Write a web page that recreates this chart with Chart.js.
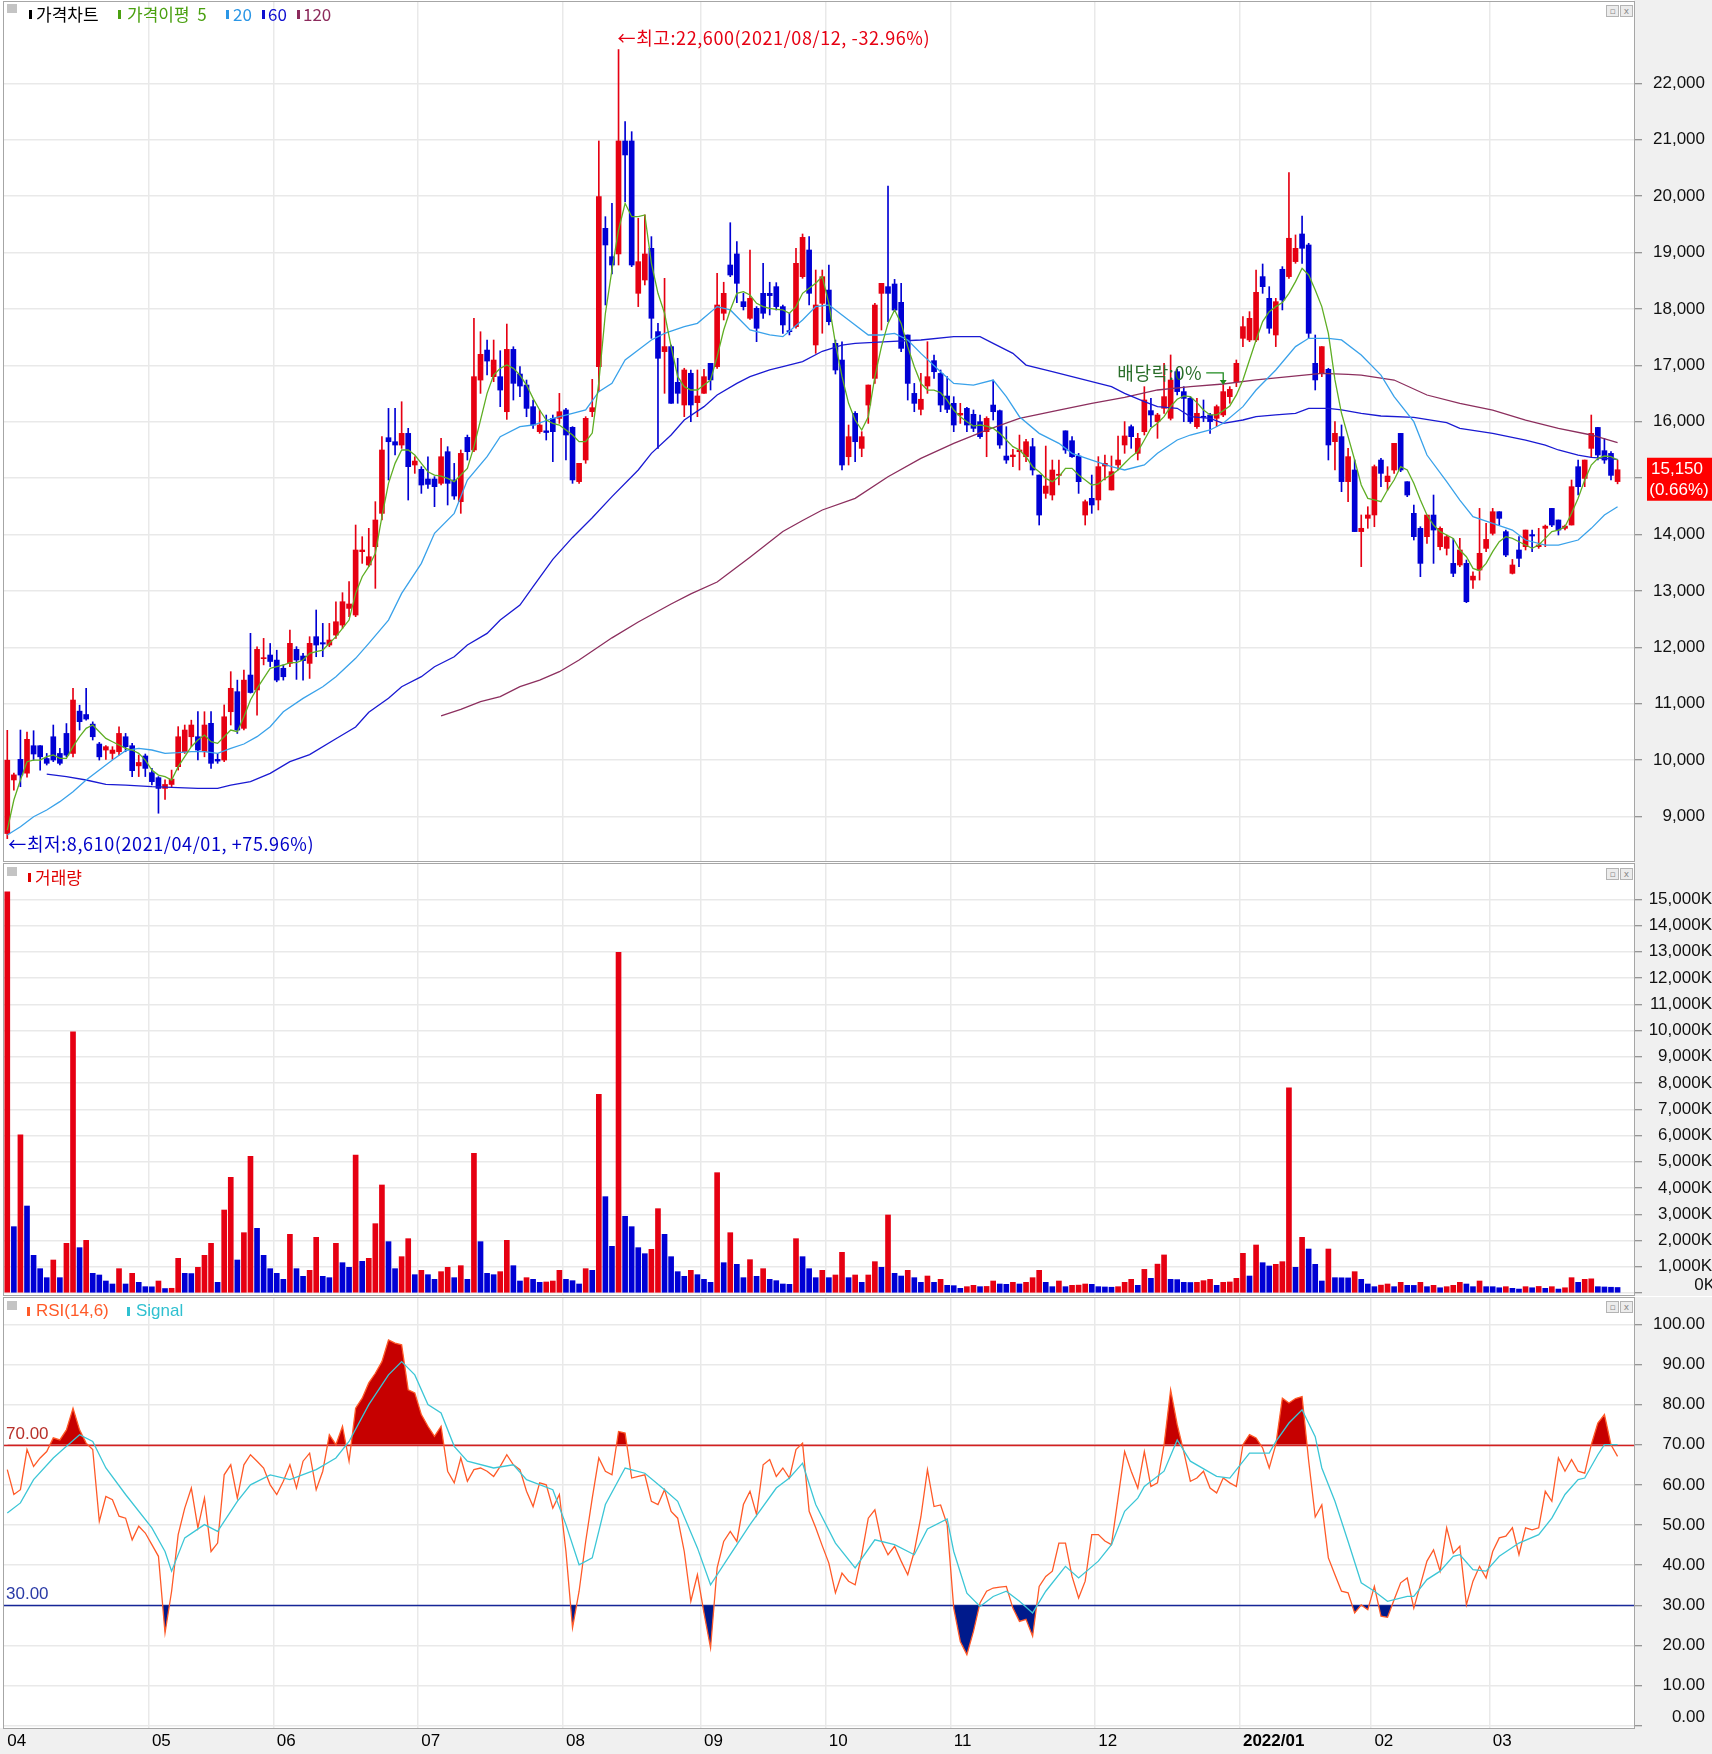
<!DOCTYPE html>
<html><head><meta charset="utf-8">
<script src="https://cdn.jsdelivr.net/npm/chart.js@4.4.1/dist/chart.umd.min.js"></script>
<style>
html,body{margin:0;padding:0;background:#fff;}
#wrap{position:relative;width:1712px;height:1754px;overflow:hidden;background:#fff;}
canvas{position:absolute;left:0;}
.ov{position:absolute;z-index:5;white-space:nowrap;font-family:'Noto Sans CJK KR','Noto Sans',sans-serif;font-size:17px;line-height:20px;}
.mk{position:absolute;z-index:5;width:3px;height:9px;}
.gbox{position:absolute;z-index:5;width:10px;height:9px;background:#c4c4c4;}
.ico{position:absolute;z-index:5;width:11px;height:10px;border:1px solid #b4b4b4;background:#ececec;font:9px/10px 'DejaVu Sans',sans-serif;color:#8a8a8a;text-align:center;}
</style></head>
<body><div id="wrap">
<canvas id="cPrice" width="1712" height="863" style="top:0;width:1712px;height:863px"></canvas>
<canvas id="cVol" width="1712" height="433" style="top:863px;width:1712px;height:433px"></canvas>
<canvas id="cRsi" width="1712" height="457" style="top:1297px;width:1712px;height:457px"></canvas>

<div class="gbox" style="left:7px;top:4px"></div>
<div class="mk" style="left:29px;top:10px;background:#000"></div>
<div class="ov" style="left:36px;top:4px;color:#000">가격차트</div>
<div class="mk" style="left:118px;top:10px;background:#4aa010"></div>
<div class="ov" style="left:127px;top:4px;color:#4aa010">가격이평&nbsp;&nbsp;5</div>
<div class="mk" style="left:226px;top:10px;background:#2a96e6"></div>
<div class="ov" style="left:233px;top:4px;color:#2a96e6">20</div>
<div class="mk" style="left:262px;top:10px;background:#1010d0"></div>
<div class="ov" style="left:268px;top:4px;color:#1010d0">60</div>
<div class="mk" style="left:297px;top:10px;background:#8c2a5c"></div>
<div class="ov" style="left:303px;top:4px;color:#8c2a5c">120</div>
<div class="ico" style="left:1606px;top:5px">▫</div><div class="ico" style="left:1620px;top:5px">x</div>

<div class="gbox" style="left:7px;top:867px"></div>
<div class="mk" style="left:28px;top:873px;background:#e00000"></div>
<div class="ov" style="left:35px;top:867px;color:#e00000">거래량</div>
<div class="ico" style="left:1606px;top:868px">▫</div><div class="ico" style="left:1620px;top:868px">x</div>

<div class="gbox" style="left:7px;top:1301px"></div>
<div class="mk" style="left:27px;top:1307px;background:#ff5a28"></div>
<div class="ov" style="left:36px;top:1301px;color:#ff5a28;font-family:'Liberation Sans',sans-serif;font-size:17px">RSI(14,6)</div>
<div class="mk" style="left:127px;top:1307px;background:#30c0d0"></div>
<div class="ov" style="left:136px;top:1301px;color:#30c0d0;font-family:'Liberation Sans',sans-serif;font-size:17px">Signal</div>
<div class="ico" style="left:1606px;top:1301px">▫</div><div class="ico" style="left:1620px;top:1301px">x</div>
</div>
<script>
// ---------------- DATA ----------------
const MONTH_LABELS = ['04','05','06','07','08','09','10','11','12','2022/01','02','03'];
const MONTH_DAYS   = [22,19,22,22,21,19,19,22,22,20,18,20];

const OPEN = [8700,9650,10015,9770,10257,10257,10030,10416,10120,10475,
10120,10870,10810,10640,10287,10180,10120,10150,10416,10257,
9900,10075,9780,9690,9500,9570,9885,10150,10416,10416,
10150,10654,10015,10003,10860,11215,10565,11510,11245,11800,
11865,11775,11630,11717,11965,11847,11717,12190,12084,12042,
12219,12396,12692,12574,13697,13461,13786,14377,15718,15647,
15588,15795,15234,15157,14986,14986,14909,15470,14968,14584,
15724,15500,16740,17272,16800,16800,16179,17284,16847,16652,
16268,15825,15840,16060,16060,16210,15902,14939,15323,16180,
16978,19430,18928,18976,20979,20979,18278,18514,19076,17599,
17244,17333,16700,16298,16860,16339,16505,17037,16978,17924,
18780,18976,18130,17835,18012,18278,18278,18396,18042,17616,
17687,18573,19046,17362,18100,18336,17391,17095,15381,16150,
15529,16297,16770,18277,18396,18443,18118,17539,16504,16220,
16634,17084,16858,16457,16327,16120,16238,16132,16002,15825,
16297,16197,15393,15381,15470,15381,15559,15056,14731,14702,
15050,15840,15665,15393,14347,14643,14614,15216,14791,15234,
15589,15914,15441,15825,16198,16003,16239,16062,16889,16535,
16416,15914,16091,16121,16062,16121,16446,16712,17480,17451,
17451,18574,18189,17539,18704,18574,18840,19330,19135,17037,
16860,16930,15648,15737,14939,15146,14053,14289,14348,15322,
14938,15145,15795,14938,14377,14111,13963,14347,13786,13756,
13490,13461,13490,13194,13372,13756,14022,14406,14052,13313,
13727,13786,14000,13786,14111,14465,14259,14111,14170,15204,
14997,15529,15900,15488,15440,14940];

const HIGH = [10530,9770,10535,10500,10523,10260,10120,10624,10210,10650,
11275,10975,11275,10680,10316,10260,10240,10590,10475,10300,
10093,10110,9855,9710,9650,9825,10595,10624,10710,10860,
10860,10860,10120,10980,11570,11420,11600,12250,12010,12160,
12070,11950,11690,12308,12013,11894,12190,12663,12426,12426,
12810,12970,13165,14170,13963,14111,14584,15736,16238,16238,
16356,15884,15381,15204,15381,15027,15707,15559,15263,15500,
15765,17834,17597,17450,17450,17260,17733,17331,16977,16741,
16386,16209,16120,16120,16504,16238,15914,15264,16091,16753,
20979,19637,19874,22600,21322,21144,19608,19667,19283,17746,
18544,17362,17126,16949,16919,16919,16930,17037,18632,18474,
19530,19194,18278,19046,18042,18810,18474,18467,18071,17924,
19076,19330,19283,18691,18691,18780,17450,17420,15943,16179,
15825,16652,18100,18455,20180,18525,18455,17539,16681,16858,
17420,17184,16918,16800,16445,16327,16256,16209,16120,16090,
16740,16209,15913,15511,15765,15689,15706,15056,15570,15322,
15322,15840,15736,15440,14614,15056,15382,15411,15394,15749,
16003,15944,15796,16623,16416,16150,17037,17185,16930,16623,
16446,16416,16387,16150,16298,16653,16623,17096,17865,17953,
18692,18798,18396,18189,18751,20417,19313,19649,19165,17539,
17333,16949,16003,15944,15530,15323,14348,14494,15234,15352,
15204,15618,15795,14938,14524,14140,14347,14702,14140,13993,
13934,13934,13550,13342,14465,14200,14465,14406,14081,13560,
13963,14081,14081,14111,14170,14465,14259,14170,14968,15322,
15322,16120,15900,15706,15470,15322];

const LOW = [8610,9470,9530,9700,10000,9825,9915,9975,9915,10060,
10060,10535,10710,10358,10003,10015,10015,10090,10150,9710,
9710,9710,9560,9060,9305,9530,9825,10120,10240,10003,
10060,9855,9945,9975,10624,10475,10535,11190,10800,11690,
11660,11390,11420,11658,11433,11420,11450,11835,11835,12013,
12160,12337,12545,12545,13490,13431,13047,14259,14968,15411,
15529,14613,15086,14731,14820,14495,14880,14525,14625,14377,
15322,15470,16504,16829,16711,16268,16043,16386,16445,16090,
15884,15795,15677,15293,15972,15323,14909,14909,15264,16091,
16535,18071,18621,18780,19903,18751,18042,18426,17480,15530,
16505,16328,16328,16091,16003,16091,16505,16564,16948,17805,
18573,18112,17982,17817,17421,17835,17894,17982,17569,17540,
17658,18544,18071,17214,17570,17716,16847,15145,15234,15293,
15381,15972,16681,17627,17775,17952,17243,16386,16179,16120,
16504,16770,16179,16160,15825,15972,15825,15825,15706,15381,
16031,15529,15263,15204,15145,15293,15056,14170,14643,14613,
14880,15440,15370,14731,14170,14377,14437,14968,14791,15145,
15441,15530,15323,15766,15914,15707,16150,16032,16476,16003,
15973,15884,16003,15796,15914,16091,16328,16623,17333,17421,
17421,18278,17569,17333,17983,18544,18810,18810,17480,16564,
16800,15323,15145,14761,14584,14053,13432,14112,14140,14850,
14790,15086,15116,14672,13904,13254,13845,13490,13727,13638,
13254,13431,12793,13047,13194,13697,13993,14170,13608,13301,
13431,13727,13697,13756,13786,14140,13993,14081,14170,14702,
14850,15381,15322,15263,14968,14900];

const CLOSE = [10000,9740,9737,10370,10110,10060,9945,10003,9945,10090,
11067,10683,10730,10416,10060,10240,10180,10475,10240,9815,
9960,9855,9620,9500,9570,9665,10416,10535,10624,10180,
10624,9945,9985,10770,11275,10535,11420,11200,11965,11810,
11750,11420,11480,12072,11776,11765,12072,12042,12060,12131,
12455,12810,12770,13727,13727,13608,14259,15500,15647,15588,
15795,15204,15304,14879,14891,14850,15381,14909,14684,15440,
15470,16800,17196,17077,17095,16563,17284,16682,16634,16238,
15943,15943,15810,15825,16179,15766,14969,15264,16062,16250,
19992,19135,18780,20979,20731,18780,18839,18976,17835,17126,
17333,16328,16505,16919,16298,16458,16800,16742,18071,18278,
18603,18455,18041,18189,17658,17924,18237,18042,17717,17598,
18810,19270,18278,18071,18573,17775,16918,15234,15736,15647,
15736,16652,18070,18455,18277,17981,17302,16681,16327,16400,
16800,16888,16297,16220,15943,16150,15943,15884,15736,16061,
16179,15588,15322,15411,15500,15647,15145,14347,14861,15145,
15070,15500,15381,14938,14584,14525,15205,15264,15116,15323,
15749,15736,15707,16387,16121,16121,16446,16741,16535,16416,
16003,16150,16080,16003,16269,16535,16575,17037,17687,17835,
18296,18396,17658,18130,18160,19254,19076,19076,17569,16742,
17333,15589,15796,14939,15382,14053,14112,14348,15205,15086,
15038,15618,15145,14702,13963,13490,14347,14081,14111,13963,
13313,13727,12810,13264,13668,13915,14406,14288,13638,13461,
13579,14081,13975,13815,14150,14170,14081,14150,14850,14850,
15322,15795,15411,15322,15050,15150];

const MA5 = [8762,9294,9649,9974,10003,10003,10062,10092,10033,10033,
10240,10417,10565,10624,10506,10387,10328,10269,10210,10181,
10122,10003,9826,9737,9708,9649,9885,10062,10240,10358,
10447,10328,10299,10417,10535,10506,10772,11067,11274,11451,
11628,11658,11688,11729,11729,11776,11894,11924,11953,12072,
12190,12338,12485,12958,13254,13431,13667,14317,14909,15263,
15500,15500,15411,15263,15115,15056,15038,14997,14938,15056,
15175,15559,16031,16504,16829,16947,17007,16947,16829,16652,
16415,16209,16031,15972,15943,15855,15766,15648,15648,15800,
16700,17924,18692,19401,19874,19637,19637,19667,18810,18278,
17924,17333,16800,16623,16564,16564,16653,16741,17155,17628,
17983,18278,18308,18248,18101,18042,18012,17995,17983,17924,
18042,18278,18367,18456,18574,18100,17391,16800,16327,16031,
15854,16090,16800,17332,17745,17982,17745,17332,16977,16682,
16563,16563,16516,16386,16209,16090,16002,15925,15943,15925,
15884,15795,15677,15559,15500,15381,15204,15115,14997,14938,
15027,15175,15175,15056,14968,14879,14897,14998,15057,15146,
15264,15382,15471,15678,15885,15973,16092,16269,16399,16458,
16446,16340,16210,16121,16121,16198,16281,16476,16742,17096,
17451,17776,17953,18042,18113,18278,18485,18721,18603,18337,
18042,17569,16742,16151,15737,15323,14880,14643,14614,14583,
14790,14968,15204,15145,14909,14613,14347,14170,14052,13993,
13933,13726,13608,13401,13360,13490,13697,13874,13963,13933,
13874,13815,13756,13815,13933,14052,14081,14140,14377,14643,
14968,15234,15352,15393,15381,15322];

// [dayIndex, value] readings for the smoother averages
const MA20 = [[0,8674],[2,8821],[4,8998],[6,9117],[8,9265],[10,9442],[12,9649],[14,9826],[16,10003],[18,10169],[20,10210],[22,10181],[24,10121],[26,10133],[28,10151],[30,10151],[32,10121],[34,10210],[36,10287],[38,10417],[40,10594],[42,10860],[45,11097],[48,11303],[50,11481],[53,11806],[55,12072],[58,12485],[60,12958],[63,13490],[65,14022],[68,14377],[70,14968],[73,15381],[75,15736],[78,15913],[80,15943],[83,16061],[86,16150],[88,16210],[90,16535],[92,16682],[94,17096],[96,17274],[98,17451],[100,17569],[103,17687],[105,17746],[108,18042],[110,17983],[113,17628],[116,17540],[118,17510],[121,17805],[123,18042],[125,18071],[128,17805],[131,17539],[133,17539],[135,17568],[137,17450],[139,17213],[142,16888],[144,16681],[147,16652],[150,16741],[152,16445],[154,16090],[157,15795],[160,15618],[162,15440],[165,15322],[168,15205],[170,15146],[173,15234],[175,15441],[178,15678],[180,15766],[183,15855],[185,15973],[188,16269],[190,16564],[193,16919],[196,17333],[198,17480],[201,17480],[203,17451],[206,17184],[209,16829],[211,16445],[214,16002],[216,15411],[219,14938],[221,14613],[223,14318],[226,14199],[229,14081],[231,13904],[234,13815],[236,13815],[239,13904],[241,14111],[243,14347],[245,14495]];

const MA60 = [[6,9755],[9,9708],[12,9649],[15,9572],[18,9560],[22,9530],[25,9519],[29,9501],[32,9501],[34,9560],[37,9619],[40,9767],[43,9974],[46,10100],[50,10380],[53,10590],[55,10850],[58,11097],[60,11303],[63,11481],[65,11658],[68,11835],[70,12042],[73,12249],[75,12485],[78,12751],[80,13076],[83,13560],[86,13950],[89,14300],[92,14673],[96,15146],[98,15441],[101,15766],[103,16032],[106,16269],[108,16476],[111,16682],[113,16801],[116,16919],[118,16978],[121,17067],[124,17250],[127,17361],[129,17391],[134,17420],[139,17450],[144,17509],[148,17509],[150,17391],[153,17213],[155,17006],[159,16888],[162,16800],[165,16712],[168,16623],[170,16505],[173,16357],[175,16269],[178,16239],[180,16092],[183,16062],[185,15973],[188,16032],[190,16092],[193,16121],[196,16151],[198,16239],[201,16239],[203,16210],[206,16150],[209,16103],[214,16079],[219,15984],[221,15884],[226,15795],[231,15677],[234,15588],[236,15500],[239,15411],[241,15370],[245,15334]];

const MA120 = [[66,10784],[69,10900],[72,11039],[75,11126],[78,11303],[81,11421],[84,11569],[87,11777],[92,12170],[96,12450],[101,12770],[104,12950],[108,13160],[113,13600],[118,14055],[121,14250],[124,14436],[129,14643],[134,15026],[139,15352],[144,15618],[149,15854],[154,16061],[160,16209],[165,16327],[170,16434],[175,16564],[180,16623],[185,16670],[190,16742],[195,16801],[200,16860],[204,16840],[206,16829],[211,16741],[216,16475],[221,16327],[226,16209],[231,16031],[236,15884],[241,15766],[245,15630]];

const VOLUME = [15280,2527,6030,3314,1435,927,584,1257,584,1892,
9950,1727,2006,749,686,457,343,927,343,749,
406,241,235,457,170,180,1321,749,740,978,
1435,1892,406,3162,4407,1257,2298,5207,2464,1435,
927,749,520,2235,927,635,863,2121,635,584,
1892,1155,978,5258,1206,1321,2641,4115,1956,927,
1384,2070,698,863,698,520,813,978,584,1041,
520,5321,1956,749,698,813,2006,1041,457,584,
520,406,420,457,863,520,470,343,927,863,
7570,3670,1778,12980,2921,2527,1727,1498,1663,3213,
2235,1384,813,635,863,698,520,406,4584,1155,
2298,1092,584,1270,635,927,520,470,343,330,
2070,1384,927,584,863,584,686,1549,584,686,
406,686,1194,978,2972,749,647,863,584,406,
647,406,520,292,280,178,241,292,241,250,
457,343,330,406,343,406,584,863,406,241,
457,241,292,300,343,330,241,230,220,241,
406,520,292,900,560,1100,1450,520,510,406,
400,406,470,520,292,406,420,560,1511,647,
1829,1155,1029,1092,1194,7820,978,2120,1676,1092,
457,1676,584,580,575,813,520,343,241,300,
343,241,406,292,290,406,241,292,200,241,
292,406,343,241,457,241,240,200,241,178,
150,241,200,250,178,241,150,200,584,406,
520,540,241,230,220,210];

const RSI = [63.8,57.6,58.8,68.8,64.6,66.7,68.3,71.7,71.2,73.7,
79.1,73.7,70.4,68.8,50.9,57.1,56.3,52.2,51.7,46.3,
49.7,48.0,45.1,42.2,23.1,33.5,47.6,54.2,59.2,49.3,
56.7,43.4,45.5,62.5,65.0,56.7,65.0,67.5,65.9,64.2,
60.0,57.6,60.9,65.0,59.2,65.9,67.9,58.8,63.4,72.5,
70.0,74.6,65.9,79.1,81.6,85.4,87.8,90.7,96.1,95.3,
94.9,83.7,82.9,77.5,74.6,72.1,74.6,63.4,60.5,66.7,
60.9,63.8,64.2,63.4,62.1,64.6,67.5,65.0,63.8,58.4,
54.6,60.5,60.0,54.2,57.6,43.4,24.4,33.5,45.9,56.7,
66.7,63.4,62.5,73.3,72.9,61.7,62.1,62.5,55.9,55.1,
58.8,53.4,51.7,43.4,31.0,37.6,28.1,19.4,39.3,45.9,
48.4,45.9,55.1,58.4,52.6,65.0,66.3,62.1,64.2,61.7,
68.8,70.4,53.4,49.3,44.8,40.5,33.1,38.0,36.0,35.1,
42.6,51.7,53.8,46.0,42.6,44.7,41.0,37.6,43.4,52.0,
63.8,54.6,55.0,50.1,29.3,21.0,17.7,23.5,30.6,33.5,
34.3,34.5,34.7,29.3,26.0,26.5,22.3,34.7,37.2,38.5,
45.5,45.5,37.2,31.8,36.0,47.6,47.6,46.0,45.1,56.7,
68.3,63.4,59.2,68.3,59.6,60.5,70.0,83.7,75.0,68.3,
60.9,61.7,63.4,59.2,58.0,61.7,60.5,59.6,70.0,72.5,
71.7,69.2,64.2,70.0,81.6,80.4,81.5,82.0,66.0,52.0,
55.0,41.8,37.6,33.5,33.1,28.1,30.1,28.9,34.7,27.3,
27.0,31.4,35.6,36.8,29.3,35.1,41.0,43.8,38.5,49.3,
43.0,44.7,30.1,36.0,39.7,36.8,43.4,46.8,47.2,49.3,
42.6,49.3,48.8,49.3,58.4,55.9,66.7,63.4,66.3,63.4,
62.9,70.0,75.4,77.5,70.0,67.1];

const SIGNAL = [[0,53.0],[2,55.5],[4,61.3],[7,66.7],[9,69.6],[11,72.5],[13,70.8],[15,64.2],[18,57.6],[22,49.3],[24,43.4],[25,38.5],[27,46.8],[30,50.1],[32,48.4],[35,55.9],[37,60.0],[40,62.5],[43,61.3],[47,63.8],[50,66.7],[52,70.8],[55,80.0],[58,87.4],[60,90.7],[62,87.4],[64,80.0],[66,77.9],[68,69.6],[70,65.9],[74,64.2],[77,65.0],[79,61.3],[83,58.8],[85,50.1],[87,40.1],[89,41.8],[91,55.1],[94,64.2],[97,62.9],[100,58.8],[102,55.9],[105,44.3],[107,35.1],[110,42.6],[113,50.1],[117,59.2],[119,61.7],[121,65.4],[123,55.1],[126,45.5],[129,39.3],[132,46.3],[135,45.1],[138,42.6],[140,49.0],[143,51.5],[144,43.4],[146,33.0],[148,29.7],[150,32.2],[152,33.5],[154,31.0],[156,28.1],[158,33.5],[161,39.7],[163,36.8],[166,41.0],[168,45.1],[170,53.4],[172,56.7],[173,59.6],[176,63.4],[178,71.2],[180,65.9],[184,62.1],[186,61.7],[189,67.9],[192,67.9],[193,70.8],[195,75.4],[197,78.7],[199,72.0],[200,64.2],[202,55.9],[204,45.9],[206,35.6],[208,33.5],[210,31.0],[213,32.2],[214,32.2],[216,36.4],[218,38.5],[220,42.2],[221,42.6],[223,38.9],[225,38.5],[227,42.2],[230,45.5],[233,47.6],[235,51.7],[237,57.6],[239,61.3],[240,61.7],[242,67.5],[243,70.0],[245,70.0]];

const PRICE_TICKS = [9000,10000,11000,12000,13000,14000,15000,16000,17000,18000,19000,20000,21000,22000];
const VOL_TICKS = [0,1000,2000,3000,4000,5000,6000,7000,8000,9000,10000,11000,12000,13000,14000,15000];
const RSI_TICKS = [0,10,20,30,40,50,60,70,80,90,100];
const RSI_LEVELS = [70, 30];
const EXDIV_INDEX = 185;
const HIGH_TEXT = '←최고:22,600(2021/08/12, -32.96%)';
const LOW_TEXT = '←최저:8,610(2021/04/01, +75.96%)';
const EXDIV_TEXT = '배당락:0%';

// ---------------- BUILD ----------------
const N = CLOSE.length;
const labels = []; const monthStart = {};
MONTH_LABELS.forEach((m, k) => {
  for (let d = 0; d < MONTH_DAYS[k]; d++) { if (d === 0) monthStart[labels.length] = m; labels.push(m + '#' + (d + 1)); }
});
labels.push('pad1', 'pad2');

const UP = '#e60012', DOWN = '#0000d4';
const candleColors = CLOSE.map((c, i) => c >= OPEN[i] ? UP : DOWN);
const bodies = OPEN.map((o, i) => [Math.min(o, CLOSE[i]), Math.max(o, CLOSE[i])]);
const wicks = LOW.map((l, i) => [l, HIGH[i]]);
const volColors = VOLUME.map((v, i) => (i === 0 || v >= VOLUME[i - 1]) ? UP : DOWN);
function fromPairs(p) { const a = new Array(N).fill(null); p.forEach(([i, v]) => { a[i] = v; }); return a; }

const AXIS_FONT = "'Liberation Sans', Arial, 'DejaVu Sans', sans-serif";
const KR_FONT = "'Noto Sans CJK KR', 'Noto Sans', sans-serif";
const GRID = '#e9e9e9';
Chart.defaults.font.family = AXIS_FONT;
Chart.defaults.font.size = 17;

function xScale(show) {
  return {
    type: 'category', offset: true,
    grid: { offset: true, drawTicks: false, lineWidth: 1.5,
      color: c => (c.index > 0 && monthStart[c.index] !== undefined) ? GRID : 'rgba(0,0,0,0)' },
    border: { display: false },
    ticks: show ? {
      autoSkip: false, maxRotation: 0, minRotation: 0, align: 'start', padding: 3, color: '#000',
      font: c => ({ family: AXIS_FONT, size: 17, weight: monthStart[c.index] === '2022/01' ? 'bold' : 'normal' }),
      callback: (v, i) => monthStart[i] || ''
    } : { display: false },
    afterFit: s => { s.height = show ? 26 : 0; s.paddingLeft = 0; s.paddingRight = 0; s.paddingTop = 0; s.paddingBottom = 0; }
  };
}
// axisW + layout right padding = 78 px strip; labels are right-aligned at the axis box's right edge
function yScale(min, max, ticks, fmt, axisW) {
  return {
    position: 'right', min, max,
    afterBuildTicks: s => { s.ticks = ticks.map(v => ({ value: v })); },
    afterFit: s => { s.width = axisW; s.paddingTop = 0; s.paddingBottom = 0; s.paddingLeft = 0; s.paddingRight = 0; },
    grid: { color: GRID, lineWidth: 1.5, drawTicks: true, tickLength: 8, tickColor: '#7a7a7a', tickWidth: 1 },
    border: { display: true, color: '#8c8c8c', width: 1 },
    ticks: { autoSkip: false, crossAlign: 'far', padding: 11, color: '#111', font: { family: AXIS_FONT, size: 17 }, callback: fmt }
  };
}
const bgPlugin = (bottomStrip) => ({
  id: 'bg',
  beforeDraw(chart) {
    const { ctx, chartArea: a, width, height } = chart;
    ctx.save();
    ctx.fillStyle = '#fff'; ctx.fillRect(0, 0, width, height);
    ctx.fillStyle = '#f0f0f0'; ctx.fillRect(a.right, 0, width - a.right, height);
    if (bottomStrip) ctx.fillRect(0, a.bottom, width, height - a.bottom);
    ctx.restore();
  },
  afterDraw(chart) {
    const { ctx, chartArea: a } = chart;
    ctx.save();
    ctx.strokeStyle = '#a6a6a6'; ctx.lineWidth = 1;
    ctx.strokeRect(a.left - 0.5, a.top - 0.5, a.right - a.left + 1, a.bottom - a.top + 1);
    ctx.restore();
  }
});
const zeroLabel = (text, dy, right) => ({
  id: 'zeroLabel',
  afterDraw(chart) {
    const { ctx } = chart; const y = chart.scales.y;
    ctx.save(); ctx.font = '17px ' + AXIS_FONT; ctx.fillStyle = '#111';
    ctx.textAlign = 'right'; ctx.textBaseline = 'middle';
    ctx.fillText(text, right, y.getPixelForValue(0) + dy);
    ctx.restore();
  }
});
const baseOpts = (padding) => ({
  responsive: false, animation: false, devicePixelRatio: 1,
  layout: { padding },
  plugins: { legend: { display: false }, tooltip: { enabled: false } }
});

// ---------- price ----------
const priceAnno = {
  id: 'priceAnno',
  afterDatasetsDraw(chart) {
    const { ctx } = chart; const x = chart.scales.x, y = chart.scales.y;
    ctx.save();
    ctx.font = '18px ' + KR_FONT; ctx.textBaseline = 'middle';
    try { ctx.letterSpacing = '0.6px'; } catch (e) {}
    let hi = 0, lo = 0;
    HIGH.forEach((v, i) => { if (v > HIGH[hi]) hi = i; });
    LOW.forEach((v, i) => { if (v < LOW[lo]) lo = i; });
    ctx.fillStyle = UP;
    ctx.fillText(HIGH_TEXT, x.getPixelForValue(hi) - 1, y.getPixelForValue(HIGH[hi]) - 11);
    ctx.fillStyle = '#0000c8';
    ctx.fillText(LOW_TEXT, x.getPixelForValue(lo) + 1, y.getPixelForValue(LOW[lo]) + 6);
    const ex = x.getPixelForValue(EXDIV_INDEX), ey = y.getPixelForValue(HIGH[EXDIV_INDEX]);
    ctx.strokeStyle = '#1e8a1e'; ctx.fillStyle = '#1e8a1e'; ctx.lineWidth = 1.3;
    ctx.beginPath(); ctx.moveTo(ex - 17, ey - 12); ctx.lineTo(ex, ey - 12); ctx.lineTo(ex, ey - 3); ctx.stroke();
    ctx.beginPath(); ctx.moveTo(ex - 3.5, ey - 5); ctx.lineTo(ex + 3.5, ey - 5); ctx.lineTo(ex, ey); ctx.closePath(); ctx.fill();
    ctx.fillStyle = '#2a6e2a'; ctx.textAlign = 'right';
    ctx.fillText(EXDIV_TEXT, ex - 21, ey - 12);
    ctx.restore();
  },
  afterDraw(chart) {
    const { ctx } = chart; const y = chart.scales.y;
    const last = CLOSE[N - 1], prev = CLOSE[N - 2];
    const yp = y.getPixelForValue(last);
    ctx.save();
    ctx.fillStyle = '#ff0000';
    ctx.fillRect(1647, yp - 12, 65, 43);
    ctx.fillStyle = '#fff'; ctx.font = '17px ' + AXIS_FONT; ctx.textAlign = 'center'; ctx.textBaseline = 'middle';
    ctx.fillText(last.toLocaleString('en-US'), 1677, yp);
    ctx.fillText('(' + ((last / prev - 1) * 100).toFixed(2) + '%)', 1679, yp + 21);
    ctx.restore();
  }
};
const lineDs = (label, data, color, order, w) => ({ type: 'line', label, data, borderColor: color, borderWidth: w || 1.3,
  pointRadius: 0, tension: 0, fill: false, spanGaps: true, order });

new Chart(document.getElementById('cPrice'), {
  type: 'bar',
  data: { labels, datasets: [
    lineDs('MA5', MA5, '#5fae24', 1),
    lineDs('MA20', fromPairs(MA20), '#3aa2ea', 2),
    lineDs('MA60', fromPairs(MA60), '#1a1ad2', 3),
    lineDs('MA120', fromPairs(MA120), '#8c2f5e', 4),
    { type: 'bar', label: 'body', data: bodies, backgroundColor: candleColors, barThickness: 5, grouped: false, minBarLength: 1, order: 10 },
    { type: 'bar', label: 'wick', data: wicks, backgroundColor: candleColors, barThickness: 1, grouped: false, order: 11 }
  ]},
  options: Object.assign(baseOpts({ top: 2, bottom: 2, left: 4, right: 7 }), {
    scales: { x: xScale(false), y: yScale(8213, 23443, PRICE_TICKS, v => v.toLocaleString('en-US'), 71) }
  }),
  plugins: [bgPlugin(false), priceAnno]
});

// ---------- volume ----------
new Chart(document.getElementById('cVol'), {
  type: 'bar',
  data: { labels, datasets: [
    { label: 'volume', data: VOLUME, backgroundColor: volColors, barThickness: 5, grouped: false }
  ]},
  options: Object.assign(baseOpts({ top: 1, bottom: 1, left: 4, right: 0 }), {
    scales: { x: xScale(false), y: yScale(-76, 16343, VOL_TICKS, v => v === 0 ? '' : v.toLocaleString('en-US') + 'K', 78) }
  }),
  plugins: [bgPlugin(false), zeroLabel('0K', -8, 1715)]
});

// ---------- RSI ----------
const rsiLevels = {
  id: 'rsiLevels',
  beforeDatasetsDraw(chart) {
    const { ctx, chartArea: a } = chart; const y = chart.scales.y;
    ctx.save();
    const cols = ['#d42020', '#1a2a9a'];
    RSI_LEVELS.forEach((lv, k) => {
      const py = Math.round(y.getPixelForValue(lv)) + 0.5;
      ctx.strokeStyle = cols[k]; ctx.lineWidth = 1.6;
      ctx.beginPath(); ctx.moveTo(a.left, py); ctx.lineTo(a.right, py); ctx.stroke();
    });
    ctx.restore();
  },
  afterDatasetsDraw(chart) {
    const { ctx, chartArea: a } = chart; const y = chart.scales.y;
    ctx.save(); ctx.font = '17px ' + AXIS_FONT; ctx.textBaseline = 'bottom';
    const cols = ['#b8302a', '#2a3aa6'];
    RSI_LEVELS.forEach((lv, k) => {
      ctx.fillStyle = cols[k];
      ctx.fillText(lv.toFixed(2), a.left + 2, y.getPixelForValue(lv) - 2);
    });
    ctx.restore();
  }
};
new Chart(document.getElementById('cRsi'), {
  type: 'line',
  data: { labels, datasets: [
    { label: 'Signal', data: fromPairs(SIGNAL), borderColor: '#3cc6d6', borderWidth: 1.3, pointRadius: 0, tension: 0, spanGaps: true, fill: false, order: 1 },
    { label: 'RSI', data: RSI, borderColor: '#ff5a28', borderWidth: 1.3, pointRadius: 0, tension: 0, order: 2,
      fill: { target: { value: RSI_LEVELS[0] }, above: '#c60000', below: 'rgba(0,0,0,0)' } },
    { label: 'RSIlow', data: RSI, borderColor: 'rgba(0,0,0,0)', borderWidth: 0, pointRadius: 0, tension: 0, order: 3,
      fill: { target: { value: RSI_LEVELS[1] }, above: 'rgba(0,0,0,0)', below: '#001a8c' } }
  ]},
  options: Object.assign(baseOpts({ top: 1, bottom: 0, left: 4, right: 7 }), {
    scales: { x: xScale(true), y: yScale(-0.57, 106.55, RSI_TICKS, v => v === 0 ? '' : v.toFixed(2), 71) }
  }),
  plugins: [bgPlugin(true), rsiLevels, zeroLabel('0.00', -8, 1705)]
});
</script>
</body></html>
